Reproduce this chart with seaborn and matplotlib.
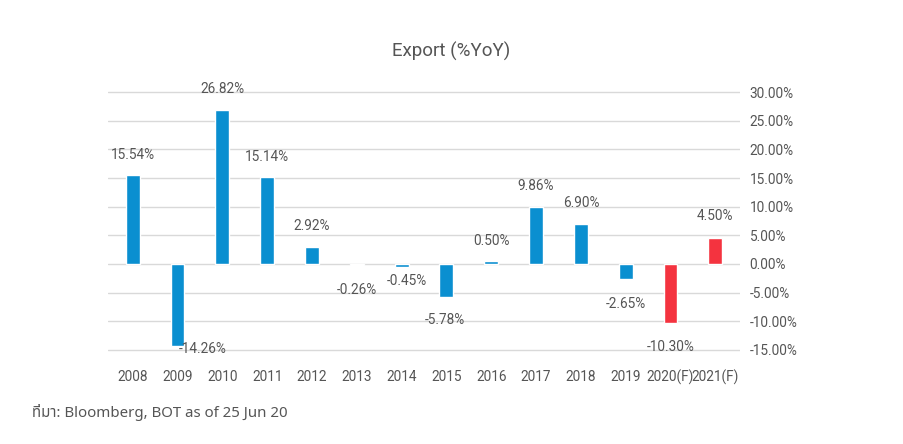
import matplotlib
matplotlib.use("Agg")
import matplotlib.pyplot as plt
import seaborn as sns
import pandas as pd

# ---- data ----
years = ["2008", "2009", "2010", "2011", "2012", "2013", "2014", "2015",
         "2016", "2017", "2018", "2019", "2020(F)", "2021(F)"]
export_yoy = [15.54, -14.26, 26.82, 15.14, 2.92, -0.26, -0.45, -5.78,
              0.50, 9.86, 6.90, -2.65, -10.30, 4.50]
kind = ["Actual"] * 12 + ["Forecast"] * 2
yticks = [-15, -10, -5, 0, 5, 10, 15, 20, 25, 30]

# label offsets in pixels (dx, dy) relative to bar end (style only)
label_offsets = [(0, 20), (25, -3), (0, 21), (0, 20), (0, 21), (0, -25), (5, -14),
                 (-2, -23), (0, 20), (0, 21), (0, 21), (0, -25), (0, -24), (0, 22)]

df = pd.DataFrame({"year": years, "value": export_yoy, "kind": kind})

sns.set_theme(style="white")
plt.rcParams["font.family"] = ["Roboto", "Noto Sans", "DejaVu Sans"]

TXT = "#555555"
BLUE = "#0A8FD0"
RED = "#F4333F"

fig = plt.figure(figsize=(9.04, 4.44), dpi=100)
ax = fig.add_axes([0.1195, 0.2079, 0.8186 - 0.1195, 0.7966 - 0.2079])

sns.barplot(data=df, x="year", y="value", hue="kind",
            palette={"Actual": BLUE, "Forecast": RED}, saturation=1,
            dodge=False, width=0.31, legend=False, ax=ax, zorder=3)

ax.set_xlim(-0.55, 13.55)
ax.set_ylim(-15.3, 30.3)
ax.set_yticks(yticks)
ax.set_yticklabels([f"{v:.2f}%" for v in yticks])
ax.yaxis.tick_right()
ax.grid(axis="y", color="#D9D9D9", linewidth=1.0, zorder=0)
ax.grid(axis="x", visible=False)
for s in ax.spines.values():
    s.set_visible(False)
ax.tick_params(axis="y", length=0, pad=7, labelsize=9.8, labelcolor=TXT)
ax.tick_params(axis="x", length=0, pad=13, labelsize=9.8, labelcolor=TXT)
ax.set_xlabel("")
ax.set_ylabel("")

for i, v in enumerate(export_yoy):
    dx, dy = label_offsets[i]
    ax.annotate(f"{v:.2f}%", xy=(i, v), xytext=(dx, dy),
                textcoords="offset pixels", ha="center", va="center",
                fontsize=9.8, color=TXT, zorder=5)

fig.text(0.4985, 0.885, "Export (%YoY)", ha="center", va="center",
         fontsize=13.5, color=TXT)
fig.text(0.035, 0.07, "ที่มา: Bloomberg, BOT as of 25 Jun 20", ha="left", va="center",
         fontsize=10.8, color=TXT,
         family=["Noto Sans Thai", "Loma", "Garuda", "Tlwg Typo", "Noto Sans", "DejaVu Sans"])

fig.savefig("out.png", dpi=100)
